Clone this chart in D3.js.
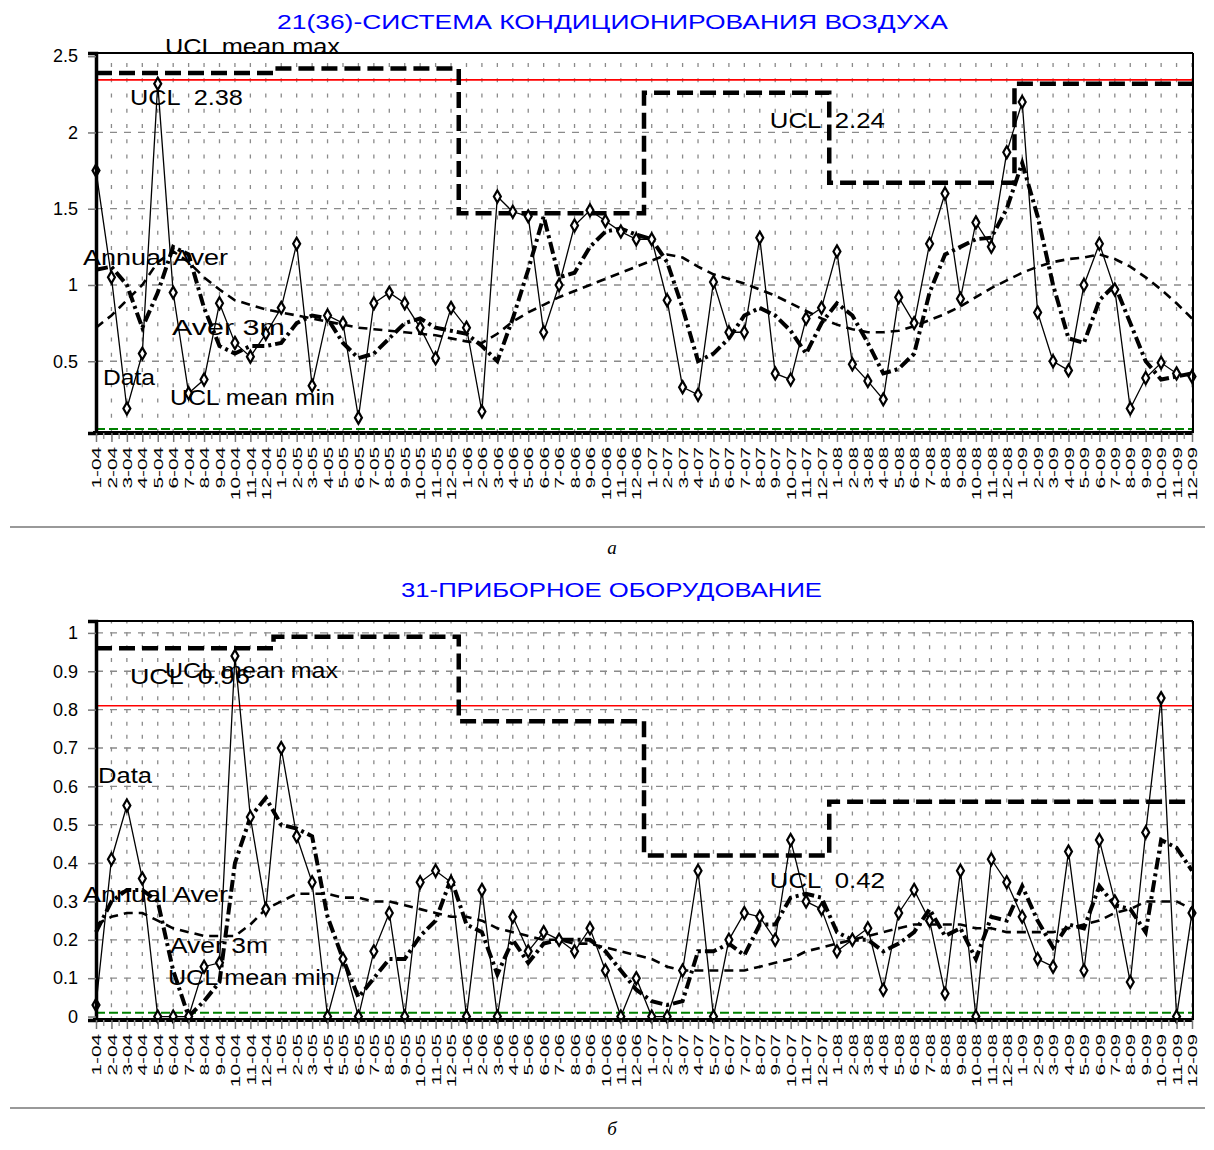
<!DOCTYPE html>
<html>
<head>
<meta charset="utf-8">
<script src="https://cdn.jsdelivr.net/npm/d3@7"></script>
<style>
body { margin: 0; background: #fff; }
text { font-family: Arial, "Liberation Sans", sans-serif; }
</style>
</head>
<body>
<div id="chart"></div>
<script>
// month labels: "1-04" ... "12-09"
var years = ["04", "05", "06", "07", "08", "09"];
var monthNums = [1, 2, 3, 4, 5, 6, 7, 8, 9, 10, 11, 12];
var months = [];
years.forEach(function(y) { monthNums.forEach(function(m) { months.push(m + "-" + y); }); });

// --- panel a: 21(36) air conditioning
var dataA = [1.75,1.05,0.19,0.55,2.32,0.95,0.29,0.38,0.88,0.62,
  0.53,0.68,0.85,1.27,0.34,0.80,0.75,0.13,0.88,0.95,
  0.88,0.72,0.52,0.85,0.72,0.17,1.58,1.48,1.45,0.69,
  1.00,1.39,1.49,1.42,1.35,1.30,1.30,0.90,0.33,0.28,
  1.02,0.69,0.69,1.31,0.42,0.38,0.78,0.85,1.22,0.48,
  0.37,0.25,0.92,0.75,1.27,1.60,0.91,1.41,1.25,1.87,
  2.20,0.82,0.50,0.44,1.00,1.27,0.97,0.19,0.39,0.49,
  0.42,0.40];
var aver3mA = [1.10,1.12,1.00,0.72,0.95,1.25,1.20,0.85,0.60,0.55,
  0.60,0.60,0.62,0.75,0.80,0.78,0.62,0.52,0.55,0.65,
  0.75,0.78,0.72,0.70,0.68,0.60,0.50,0.78,1.10,1.45,
  1.05,1.08,1.25,1.35,1.37,1.33,1.30,1.15,0.85,0.50,
  0.55,0.65,0.80,0.85,0.80,0.70,0.55,0.75,0.88,0.80,
  0.62,0.42,0.45,0.55,0.95,1.20,1.25,1.30,1.31,1.50,
  1.80,1.45,1.00,0.65,0.62,0.90,1.00,0.75,0.50,0.38,
  0.40,0.42];
var annualA = [0.72,0.80,0.90,1.00,1.15,1.22,1.15,1.05,0.97,0.90,
  0.87,0.84,0.82,0.80,0.78,0.76,0.74,0.72,0.71,0.70,
  0.69,0.68,0.67,0.65,0.63,0.62,0.68,0.76,0.82,0.87,
  0.92,0.96,1.00,1.04,1.08,1.12,1.16,1.20,1.18,1.12,
  1.07,1.04,1.01,0.97,0.93,0.88,0.83,0.78,0.74,0.71,
  0.69,0.69,0.70,0.73,0.77,0.81,0.86,0.92,0.98,1.03,
  1.08,1.12,1.15,1.17,1.18,1.20,1.17,1.12,1.05,0.97,
  0.88,0.78];
var uclMaxA = [2.39, 2.42, 1.47, 2.26, 1.67, 2.32]; // by year
var uclA = 2.345;
var uclMinA = 0.055;

// --- panel b: 31 instruments
var dataB = [0.03,0.41,0.55,0.36,0.00,0.00,0.00,0.13,0.14,0.94,
  0.52,0.28,0.70,0.47,0.35,0.00,0.15,0.00,0.17,0.27,
  0.00,0.35,0.38,0.35,0.00,0.33,0.00,0.26,0.17,0.22,
  0.20,0.17,0.23,0.12,0.00,0.10,0.00,0.00,0.12,0.38,
  0.00,0.20,0.27,0.26,0.20,0.46,0.30,0.28,0.17,0.20,
  0.23,0.07,0.27,0.33,0.25,0.06,0.38,0.00,0.41,0.35,
  0.26,0.15,0.13,0.43,0.12,0.46,0.30,0.09,0.48,0.83,
  0.00,0.27];
var aver3mB = [0.22,0.30,0.33,0.33,0.30,0.12,0.00,0.04,0.09,0.40,
  0.52,0.57,0.50,0.49,0.47,0.26,0.15,0.05,0.10,0.15,
  0.15,0.21,0.25,0.36,0.24,0.22,0.11,0.20,0.14,0.19,
  0.20,0.20,0.20,0.17,0.12,0.07,0.04,0.03,0.04,0.17,
  0.17,0.19,0.16,0.24,0.24,0.31,0.32,0.31,0.22,0.20,
  0.20,0.17,0.19,0.22,0.28,0.21,0.23,0.15,0.26,0.25,
  0.34,0.25,0.18,0.24,0.23,0.34,0.29,0.28,0.22,0.46,
  0.44,0.38];
var annualB = [0.24,0.26,0.27,0.27,0.25,0.23,0.22,0.21,0.21,0.21,
  0.24,0.28,0.30,0.32,0.32,0.32,0.31,0.31,0.30,0.30,
  0.29,0.28,0.27,0.26,0.26,0.25,0.23,0.22,0.21,0.20,
  0.20,0.19,0.19,0.18,0.17,0.16,0.15,0.13,0.12,0.12,
  0.12,0.12,0.12,0.13,0.14,0.15,0.17,0.18,0.19,0.20,
  0.21,0.22,0.23,0.24,0.24,0.24,0.24,0.23,0.23,0.22,
  0.22,0.22,0.22,0.23,0.24,0.25,0.27,0.28,0.30,0.30,
  0.30,0.28];
var uclMaxB = [0.96, 0.99, 0.77, 0.42, 0.56, 0.56];
var uclB = 0.81;
var uclMinB = 0.01;

var W = 1214, H = 1150;
var svg = d3.select("#chart").append("svg")
  .attr("width", W).attr("height", H);

var x = d3.scaleLinear().domain([0, months.length - 1]).range([96, 1192]);

function drawPanel(p) {
  var g = svg.append("g");
  var y = d3.scaleLinear().domain(p.domain).range([p.bottom, p.top]);
  var left = 96, right = 1193;

  // title
  g.append("text")
    .attr("x", p.titleX).attr("y", p.titleY)
    .attr("textLength", p.titleW).attr("lengthAdjust", "spacingAndGlyphs")
    .style("font-size", "21px").attr("fill", "#0000ff")
    .text(p.title);

  // vertical grid
  var period = (y(0) - y(0.1)) / p.vdash;
  g.selectAll(".vg").data(months).enter().append("line")
    .attr("x1", function(d, i) { return x(i); })
    .attr("x2", function(d, i) { return x(i); })
    .attr("y1", p.bottom).attr("y2", p.top)
    .attr("stroke", "#8a8a8a").attr("stroke-width", 1.3)
    .attr("stroke-dasharray", "4," + (period - 4));

  // horizontal grid
  g.selectAll(".hg").data(p.grid).enter().append("line")
    .attr("x1", left).attr("x2", right)
    .attr("y1", function(d) { return y(d); })
    .attr("y2", function(d) { return y(d); })
    .attr("stroke", "#8a8a8a").attr("stroke-width", 1.3)
    .attr("stroke-dasharray", "7,7");

  // UCL (red) and UCL mean min (green)
  g.append("line").attr("x1", left).attr("x2", right)
    .attr("y1", y(p.ucl)).attr("y2", y(p.ucl))
    .attr("stroke", "#ff0000").attr("stroke-width", 1.6);
  g.append("line").attr("x1", left).attr("x2", right)
    .attr("y1", y(p.uclMin)).attr("y2", y(p.uclMin))
    .attr("stroke", "#008000").attr("stroke-width", 2)
    .attr("stroke-dasharray", "9,4");

  var line = d3.line()
    .x(function(d, i) { return x(i); })
    .y(function(d) { return y(d); });

  // UCL mean max by year, step line
  var maxSeries = months.map(function(m, i) { return p.uclMax[Math.floor(i / 12)]; });
  g.append("path").datum(maxSeries)
    .attr("d", line.curve(d3.curveStep))
    .attr("fill", "none").attr("stroke", "#000").attr("stroke-width", 4.5)
    .attr("stroke-dasharray", "16,7");
  line.curve(d3.curveLinear);

  // annual average
  g.append("path").datum(p.annual)
    .attr("d", line)
    .attr("fill", "none").attr("stroke", "#000").attr("stroke-width", 2.6)
    .attr("stroke-dasharray", "9,6");

  // 3 month average
  g.append("path").datum(p.aver3m)
    .attr("d", line)
    .attr("fill", "none").attr("stroke", "#000").attr("stroke-width", 4)
    .attr("stroke-dasharray", "12,4,3,4");

  // data
  g.append("path").datum(p.data)
    .attr("d", line)
    .attr("fill", "none").attr("stroke", "#000").attr("stroke-width", 1.3);
  g.selectAll(".pt").data(p.data).enter().append("path")
    .attr("transform", function(d, i) { return "translate(" + x(i) + "," + y(d) + ")"; })
    .attr("d", d3.symbol().type(d3.symbolDiamond).size(42))
    .attr("fill", "#fff").attr("stroke", "#000").attr("stroke-width", 2.2);

  // frame
  g.append("line").attr("x1", left).attr("x2", right).attr("y1", p.top).attr("y2", p.top)
    .attr("stroke", "#000").attr("stroke-width", 2);
  g.append("line").attr("x1", right).attr("x2", right).attr("y1", p.top).attr("y2", p.bottom)
    .attr("stroke", "#000").attr("stroke-width", 2);

  // left axis
  var yAxis = d3.axisLeft(y).tickValues(p.ticks).tickSize(8).tickPadding(10)
    .tickFormat(d3.format(""));
  var ya = g.append("g").attr("transform", "translate(" + left + ",0)").call(yAxis);
  ya.select(".domain").attr("stroke-width", 3.5);
  ya.selectAll(".tick line").attr("stroke", "#777").attr("stroke-width", 1.5);
  ya.selectAll("text").style("font-size", "18px").attr("fill", "#000");

  // bottom axis with rotated month labels
  var xAxis = d3.axisBottom(x).tickValues(d3.range(months.length)).tickSize(9)
    .tickFormat(function(i) { return months[i]; });
  var xa = g.append("g").attr("transform", "translate(0," + p.bottom + ")").call(xAxis);
  xa.select(".domain").attr("stroke-width", 4).attr("d", "M" + (left - 3) + ",0H" + right);
  xa.selectAll(".tick line").attr("stroke", "#777").attr("stroke-width", 1.5);
  xa.selectAll(".tick text")
    .attr("y", null).attr("dy", null)
    .attr("text-anchor", "end")
    .attr("transform", "translate(0,14) rotate(-90) scale(1.6,1)")
    .attr("dy", "0.36em")
    .style("font-size", "13px").attr("fill", "#000");
  // half-month ticks
  g.selectAll(".ht").data(months.slice(1)).enter().append("line")
    .attr("x1", function(d, i) { return x(i + 0.5); })
    .attr("x2", function(d, i) { return x(i + 0.5); })
    .attr("y1", p.bottom).attr("y2", p.bottom + 6)
    .attr("stroke", "#999").attr("stroke-width", 1.5);

  // series labels
  g.selectAll(".lbl").data(p.labels).enter().append("text")
    .attr("x", function(d) { return x(d.i); })
    .attr("y", function(d) { return y(d.v); })
    .attr("textLength", function(d) { return d.w; })
    .attr("lengthAdjust", "spacingAndGlyphs")
    .style("white-space", "pre")
    .style("font-size", "22px").attr("fill", "#000")
    .text(function(d) { return d.t; });

  // separator and caption
  g.append("line").attr("x1", 10).attr("x2", 1205)
    .attr("y1", p.sepY).attr("y2", p.sepY)
    .attr("stroke", "#999").attr("stroke-width", 2);
  g.append("text").attr("x", 612).attr("y", p.sepY + 27)
    .attr("text-anchor", "middle")
    .style("font-family", "'Liberation Serif','Times New Roman',serif")
    .style("font-style", "italic").style("font-size", "19px")
    .text(p.caption);
}

drawPanel({
  title: "21(36)-СИСТЕМА КОНДИЦИОНИРОВАНИЯ ВОЗДУХА",
  titleX: 277, titleY: 29, titleW: 671,
  top: 53, bottom: 433, domain: [0.0295, 2.521],
  ticks: [0.5, 1, 1.5, 2, 2.5], grid: [0.5, 1, 1.5, 2], vdash: 1,
  data: dataA, aver3m: aver3mA, annual: annualA,
  uclMax: uclMaxA, ucl: uclA, uclMin: uclMinA,
  labels: [
    {t: "UCL mean max", i: 4.47, v: 2.515, w: 175},
    {t: "UCL  2.38", i: 2.2, v: 2.18, w: 113},
    {t: "UCL  2.24", i: 43.65, v: 2.03, w: 115},
    {t: "Annual Aver", i: -0.84, v: 1.131, w: 145},
    {t: "Aver 3m", i: 4.92, v: 0.672, w: 113},
    {t: "Data", i: 0.45, v: 0.344, w: 52},
    {t: "UCL mean min", i: 4.79, v: 0.213, w: 165}
  ],
  sepY: 527, caption: "а"
});

drawPanel({
  title: "31-ПРИБОРНОЕ ОБОРУДОВАНИЕ",
  titleX: 401, titleY: 597, titleW: 421,
  top: 621, bottom: 1020, domain: [-0.009, 1.031],
  ticks: [0, 0.1, 0.2, 0.3, 0.4, 0.5, 0.6, 0.7, 0.8, 0.9, 1],
  grid: [0.1, 0.2, 0.3, 0.4, 0.5, 0.6, 0.7, 0.8, 0.9, 1], vdash: 3,
  data: dataB, aver3m: aver3mB, annual: annualB,
  uclMax: uclMaxB, ucl: uclB, uclMin: uclMinB,
  labels: [
    {t: "UCL mean max", i: 4.47, v: 0.883, w: 173},
    {t: "UCL  0.96", i: 2.2, v: 0.867, w: 120},
    {t: "Data", i: 0.13, v: 0.609, w: 54},
    {t: "Annual Aver", i: -0.84, v: 0.299, w: 145},
    {t: "UCL  0.42", i: 43.65, v: 0.335, w: 115},
    {t: "Aver 3m", i: 4.79, v: 0.166, w: 98},
    {t: "UCL mean min", i: 4.66, v: 0.082, w: 167}
  ],
  sepY: 1108, caption: "б"
});
</script>
</body>
</html>
